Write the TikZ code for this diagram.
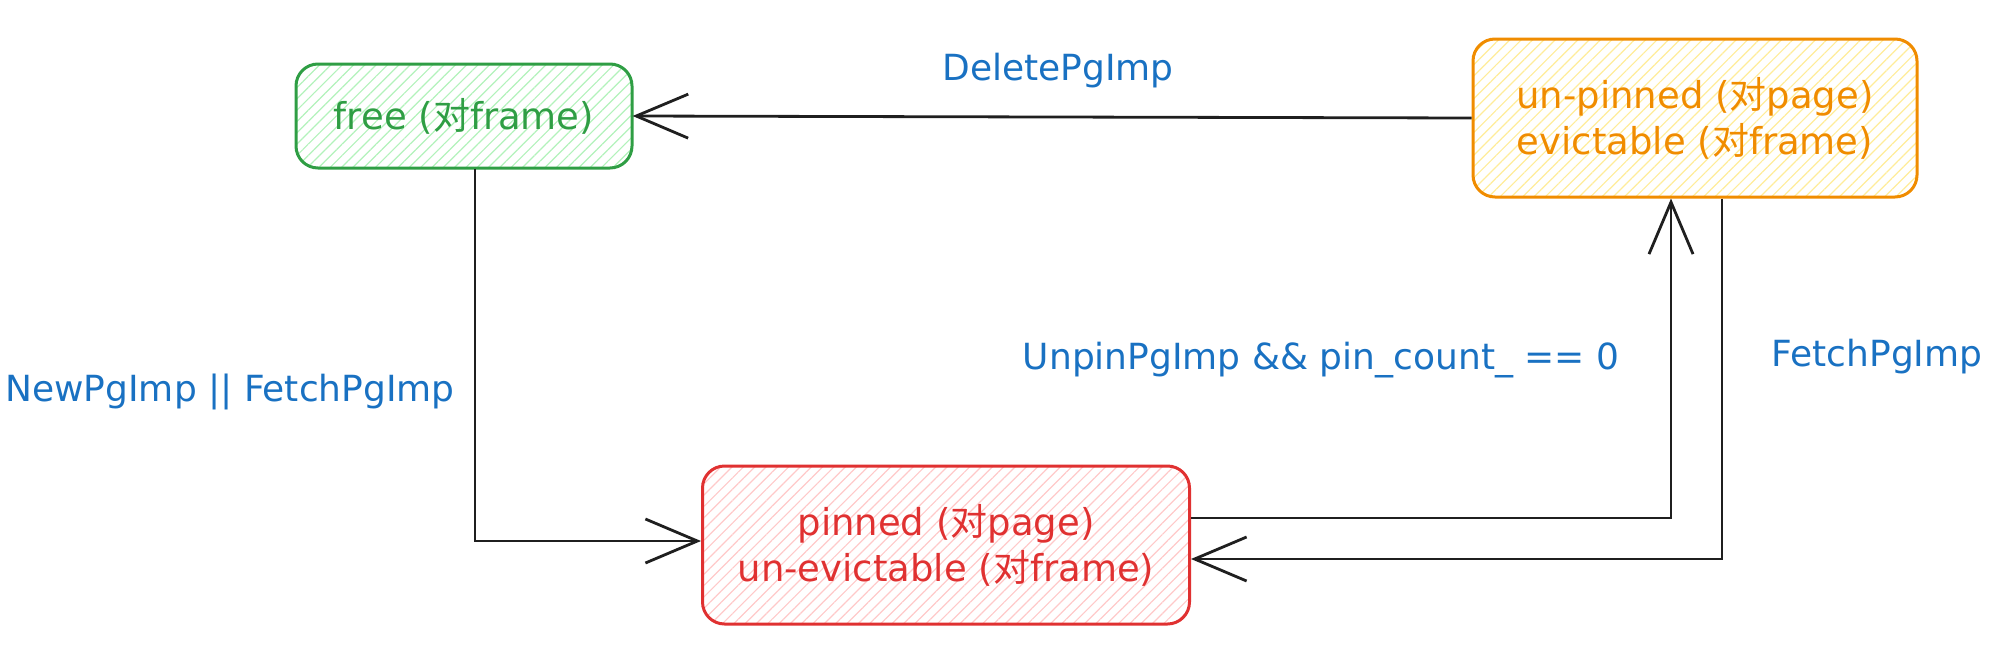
\documentclass[tikz,border=0pt]{standalone}
\usepackage{fontspec}
\setmainfont{DejaVu Sans}
\newfontfamily\cjk{Noto Sans CJK SC}
\usepackage{tikz}
\usetikzlibrary{positioning,calc,arrows.meta,patterns.meta}

\definecolor{freeline}{HTML}{2F9E44}
\definecolor{freefill}{HTML}{B2F2BB}
\definecolor{evictline}{HTML}{F08C00}
\definecolor{evictfill}{HTML}{FFEC99}
\definecolor{pinline}{HTML}{E03131}
\definecolor{pinfill}{HTML}{FFC9C9}
\definecolor{edgeblue}{HTML}{1971C2}

\newcommand{\dui}{{\cjk 对}}

\tikzset{
  state/.style={draw, line width=3pt, rounded corners=22pt, align=center,
    inner sep=0pt, font=\fontsize{37}{46}\selectfont},
  hatch/.style={pattern={Lines[angle=45,distance=8pt,line width=1.2pt]}, pattern color=#1},
  trans/.style={draw=black!88, line width=2.8pt,
    -{Straight Barb[length=52pt,width=44pt,line width=2.8pt]}},
  lbl/.style={text=edgeblue, font=\fontsize{36}{42}\selectfont}
}

\begin{document}
\begin{tikzpicture}[x=1pt,y=-1pt]
      \useasboundingbox (0,0) rectangle (2015,656);

      \node[state,hatch=freefill,draw=freeline,text=freeline,minimum width=336pt,minimum height=104pt] (free) at (464,116) {free (\dui frame)};
      \node[state,hatch=evictfill,draw=evictline,text=evictline,minimum width=444pt,minimum height=158pt] (evict) at (1695,118) {un-pinned (\dui page)\\evictable (\dui frame)};
      \node[state,hatch=pinfill,draw=pinline,text=pinline,minimum width=487pt,minimum height=158pt] (pinned) at (946,545) {pinned (\dui page)\\un-evictable (\dui frame)};

      \draw[trans] (evict.west) -- (free.east);
      \draw[trans] ([xshift=11pt]free.south) |- ([yshift=4pt]pinned.west);
      \draw[trans] ([yshift=27pt]pinned.east) -| ([xshift=-24pt]evict.south);
      \draw[trans] ([xshift=27pt]evict.south) |- ([yshift=-14pt]pinned.east);

      \node[lbl] (delete) at (1058,71) {DeletePgImp};
      \node[lbl] (newfetch) at (230,392) {NewPgImp || FetchPgImp};
      \node[lbl] (unpin) at (1321,360) {UnpinPgImp \&\& pin\_count\_ == 0};
      \node[lbl] (fetch) at (1877,357) {FetchPgImp};
\end{tikzpicture}
\end{document}
